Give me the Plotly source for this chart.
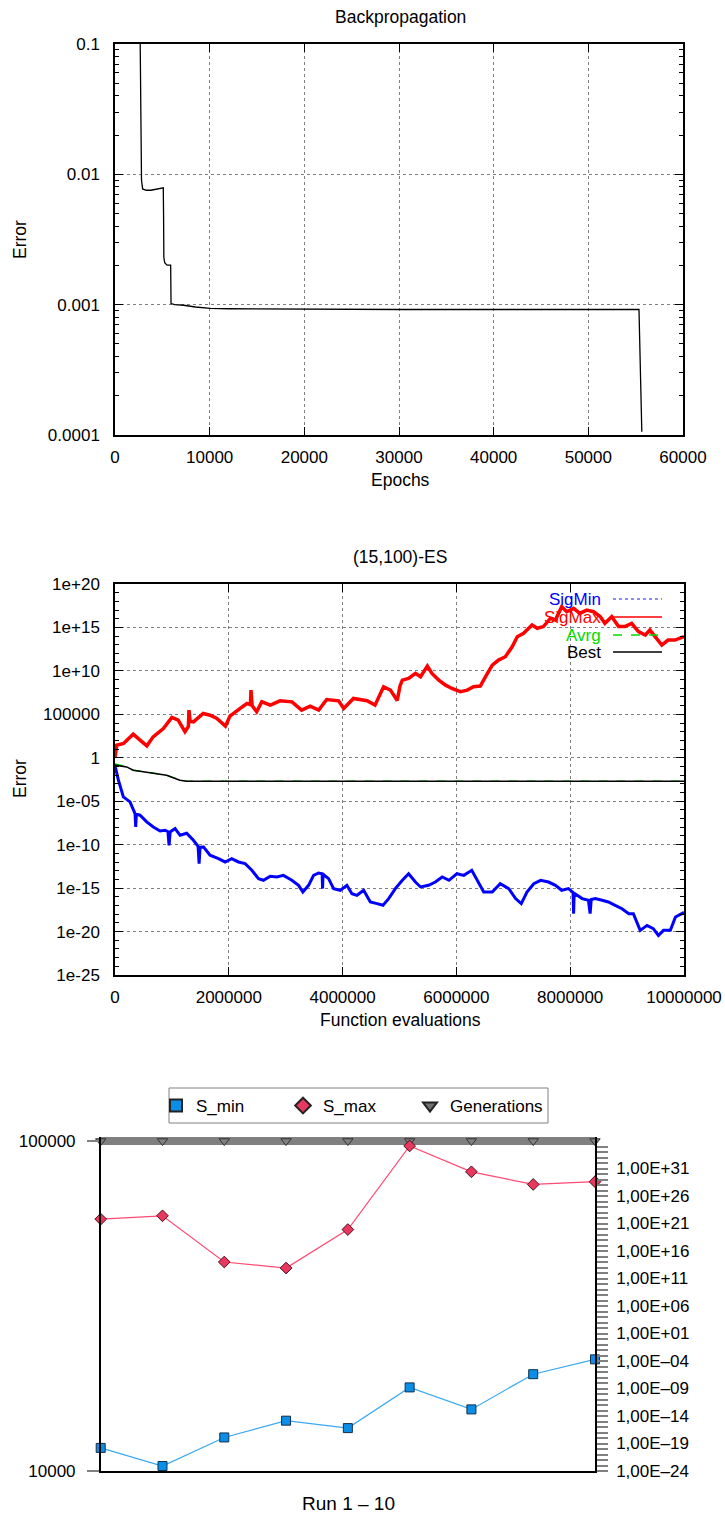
import numpy as np
import plotly.graph_objects as go

# ---------------- Backpropagation: training error per epoch ----------------
bp_epochs = [2600, 2650, 2720, 2800, 2920, 3300, 3800, 4300, 4800, 5100,
             5130, 5160, 5250, 5500, 5880, 5905, 5920, 6300, 7250, 8500,
             10070, 12000, 19600, 30000, 40000, 50000, 55350, 55650]
bp_error = [0.3, 0.1, 0.02, 0.009, 0.00773, 0.00755, 0.00755, 0.0077, 0.0078, 0.00787,
            0.005, 0.0023, 0.0021, 0.00201, 0.00201, 0.0015, 0.00102, 0.00100, 0.00099, 0.00096,
            0.000938, 0.00093, 0.000923, 0.000918, 0.000918, 0.000918, 0.000918, 0.000106]

# ---------------- (15,100)-ES: step sizes and fitness (log10 values) ----------------
sigmax_evals_m = [0.0, 0.03, 0.15, 0.32, 0.44, 0.56, 0.67, 0.85, 1.0, 1.11,
                  1.23, 1.29, 1.30, 1.32, 1.38, 1.55, 1.67, 1.79, 1.94, 2.02,
                  2.2, 2.32, 2.38, 2.39, 2.41, 2.49, 2.58, 2.73, 2.9, 3.11,
                  3.28, 3.43, 3.58, 3.72, 3.93, 4.02, 4.19, 4.43, 4.57, 4.72,
                  4.84, 4.92, 4.96, 5.01, 5.05, 5.16, 5.28, 5.37, 5.49, 5.57,
                  5.69, 5.81, 5.92, 6.07, 6.19, 6.3, 6.42, 6.51, 6.63, 6.74,
                  6.86, 6.98, 7.07, 7.18, 7.33, 7.42, 7.53, 7.65, 7.74, 7.85,
                  7.94, 8.06, 8.17, 8.29, 8.41, 8.53, 8.61, 8.73, 8.85, 8.96,
                  9.08, 9.2, 9.32, 9.4, 9.52, 9.61, 9.72, 9.84, 10.0]
sigmax_log10 = [0.0, 1.45, 1.64, 2.72, 2.03, 1.37, 2.41, 3.37, 4.64, 4.33,
                3.0, 3.6, 5.48, 4.2, 4.14, 5.1, 4.9, 4.52, 3.64, 4.79,
                5.68, 6.25, 6.1, 7.79, 6.0, 5.29, 6.44, 6.06, 6.56, 6.44,
                5.48, 5.94, 5.48, 6.71, 6.56, 5.68, 6.83, 6.56, 6.06, 8.17,
                7.79, 6.9, 6.6, 8.3, 8.94, 9.13, 9.71, 9.32, 10.55, 9.71,
                8.94, 8.36, 7.98, 7.6, 7.79, 8.17, 8.25, 9.32, 10.67, 11.24,
                11.63, 12.78, 13.93, 14.32, 15.28, 14.9, 15.1, 16.04, 15.85, 17.39,
                16.81, 17.2, 16.62, 17.0, 16.81, 16.24, 15.47, 16.24, 15.1, 15.1,
                15.47, 14.51, 14.13, 14.7, 13.74, 12.97, 13.55, 13.55, 13.93]

sigmin_evals_m = [0.0, 0.06, 0.147, 0.264, 0.352, 0.364, 0.376, 0.44, 0.557, 0.674,
                  0.792, 0.88, 0.93, 0.95, 0.97, 1.056, 1.144, 1.26, 1.378, 1.46,
                  1.478, 1.496, 1.554, 1.67, 1.818, 1.935, 2.05, 2.17, 2.287, 2.405,
                  2.522, 2.61, 2.727, 2.845, 2.96, 3.108, 3.226, 3.302, 3.402, 3.49,
                  3.578, 3.64, 3.648, 3.656, 3.754, 3.842, 3.959, 4.076, 4.164, 4.252,
                  4.37, 4.487, 4.604, 4.71, 4.81, 4.927, 5.05, 5.16, 5.28, 5.37,
                  5.51, 5.63, 5.75, 5.87, 6.01, 6.13, 6.27, 6.36, 6.48, 6.63,
                  6.77, 6.92, 7.04, 7.14, 7.24, 7.36, 7.48, 7.62, 7.74, 7.85,
                  7.97, 8.05, 8.06, 8.07, 8.21, 8.32, 8.35, 8.37, 8.44, 8.56,
                  8.67, 8.79, 8.91, 9.03, 9.11, 9.23, 9.35, 9.46, 9.55, 9.64,
                  9.76, 9.85, 9.97, 10.0]
sigmin_log10 = [-0.9, -2.58, -4.5, -5.08, -6.42, -7.96, -6.5, -6.61, -7.38, -7.96,
                -8.42, -8.34, -8.5, -10.07, -8.53, -8.15, -8.92, -8.68, -9.5, -10.2,
                -12.18, -10.3, -10.26, -11.22, -11.6, -11.99, -11.6, -11.99, -12.18, -12.95,
                -13.91, -14.1, -13.64, -13.72, -13.53, -14.1, -14.68, -15.45, -14.68, -13.53,
                -13.26, -13.34, -15.06, -13.4, -13.91, -15.06, -15.25, -14.68, -15.64, -15.83,
                -15.25, -16.6, -16.79, -16.98, -16.21, -15.06, -14.1, -13.34, -14.3, -14.87,
                -14.68, -14.3, -13.72, -14.1, -13.34, -13.53, -12.95, -14.1, -15.45, -15.45,
                -14.49, -15.06, -16.21, -16.79, -15.45, -14.49, -14.1, -14.3, -14.68, -15.25,
                -15.06, -15.5, -17.94, -15.6, -16.21, -16.4, -17.94, -16.3, -16.21, -16.4,
                -16.6, -16.98, -17.37, -17.94, -17.94, -19.86, -19.29, -19.67, -20.44, -19.86,
                -19.86, -18.33, -17.94, -17.8]

best_evals_m = [0.0, 0.1, 0.205, 0.32, 0.61, 0.907, 1.14, 1.26, 1.5, 10.0]
best_log10 = [-0.85, -0.92, -1.05, -1.43, -1.69, -2.0, -2.58, -2.7, -2.7, -2.7]
avrg_evals_m = [0.0, 0.1, 0.205, 0.32, 0.61, 0.907, 1.14, 1.26, 1.5, 10.0]
avrg_log10 = [-0.7, -0.9, -1.04, -1.42, -1.68, -1.99, -2.57, -2.7, -2.7, -2.7]

# ---------------- Runs 1-10 summary ----------------
runs = [1, 2, 3, 4, 5, 6, 7, 8, 9]
s_min_exp = [-19.8, -23.1, -17.9, -14.85, -16.2, -8.8, -12.8, -6.4, -3.7]
s_max_exp = [21.8, 22.4, 14.0, 12.9, 19.9, 35.1, 30.4, 28.1, 28.6]
generations = [100000, 100000, 100000, 100000, 100000, 100000, 100000, 100000, 100000]

right_tick_exps = list(range(-24, 36))
right_label_exps = list(range(-24, 32, 5))

W, H = 725, 1515
FONT = "Liberation Sans, Arial, sans-serif"


def fx(p):
    return p / W


def fy(p):
    return 1 - p / H


def exp_label(e):
    sign = "+" if e >= 0 else "\u2013"
    return "1,00E%s%02d" % (sign, abs(e))


fig = go.Figure()

# --- top panel
fig.add_trace(go.Scatter(x=bp_epochs, y=bp_error, mode="lines",
                         line=dict(color="black", width=1.3),
                         xaxis="x", yaxis="y", showlegend=False))

# --- middle panel
mid = dict(xaxis="x2", yaxis="y2", showlegend=False, mode="lines")
fig.add_trace(go.Scatter(x=np.array(sigmax_evals_m) * 1e6, y=10.0 ** np.array(sigmax_log10),
                         line=dict(color="#ff0000", width=3.5), **mid))
fig.add_trace(go.Scatter(x=np.array(sigmin_evals_m) * 1e6, y=10.0 ** np.array(sigmin_log10),
                         line=dict(color="#0000ff", width=3), **mid))
fig.add_trace(go.Scatter(x=np.array(avrg_evals_m) * 1e6, y=10.0 ** np.array(avrg_log10),
                         line=dict(color="#00dd00", width=1.5, dash="dash"), **mid))
fig.add_trace(go.Scatter(x=np.array(best_evals_m) * 1e6, y=10.0 ** np.array(best_log10),
                         line=dict(color="black", width=1.6), **mid))

# --- bottom panel
fig.add_trace(go.Scatter(x=runs, y=generations, mode="lines+markers",
                         line=dict(color="#808080", width=8),
                         marker=dict(symbol="triangle-down", size=9, color="#808080",
                                     line=dict(color="#333333", width=1)),
                         cliponaxis=False, xaxis="x3", yaxis="y3", showlegend=False))
fig.add_trace(go.Scatter(x=runs, y=10.0 ** np.array(s_max_exp), mode="lines+markers",
                         line=dict(color="#ff4a73", width=1.2),
                         marker=dict(symbol="diamond", size=9, color="#e8385e",
                                     line=dict(color="#4a1020", width=1)),
                         cliponaxis=False, xaxis="x3", yaxis="y4", showlegend=False))
fig.add_trace(go.Scatter(x=runs, y=10.0 ** np.array(s_min_exp), mode="lines+markers",
                         line=dict(color="#38a8f0", width=1.2),
                         marker=dict(symbol="square", size=9, color="#0a8ee8",
                                     line=dict(color="#10304a", width=1)),
                         cliponaxis=False, xaxis="x3", yaxis="y4", showlegend=False))

# legend entries for the bottom panel
for name, sym, col, lg in [("S_min", "square", "#0a8ee8", "legend"),
                           ("S_max", "diamond", "#e8385e", "legend"),
                           ("Generations", "triangle-down", "#707070", "legend2")]:
    fig.add_trace(go.Scatter(x=[None], y=[None], mode="markers", name=name,
                             marker=dict(symbol=sym, size=9, color=col,
                                         line=dict(color="#222222", width=1)),
                             xaxis="x3", yaxis="y4", showlegend=True, legend=lg))

gp_axis = dict(showline=True, linecolor="black", linewidth=1.5, mirror="allticks",
               ticks="inside", ticklen=8, tickcolor="black", tickwidth=1,
               showgrid=True, gridcolor="#808080", griddash="dot", gridwidth=1,
               zeroline=False, automargin=False,
               tickfont=dict(family=FONT, size=17, color="black"))

top_minor = [m * 10.0 ** k for k in range(-4, -1) for m in range(2, 10)]
mid_minor = [10.0 ** k for k in range(-25, 21)]

legend_common = dict(orientation="h", y=fy(1088), xanchor="left", yanchor="top",
                     borderwidth=0, bgcolor="rgba(0,0,0,0)",
                     font=dict(family=FONT, size=17, color="black"),
                     itemsizing="constant", itemwidth=30)

fig.update_layout(
    template="none",
    width=W, height=H, margin=dict(l=0, r=0, t=0, b=0, pad=0), autosize=False,
    paper_bgcolor="white", plot_bgcolor="white",
    font=dict(family=FONT, size=17, color="black"),
    showlegend=True,
    xaxis=dict(gp_axis, domain=[fx(115), fx(683)], anchor="y", range=[0, 60000],
               tickvals=[0, 10000, 20000, 30000, 40000, 50000, 60000],
               ticktext=["0", "10000", "20000", "30000", "40000", "50000", "60000"],
               ticklabelstandoff=6),
    yaxis=dict(gp_axis, domain=[fy(435), fy(44)], anchor="x", type="log", range=[-4, -1],
               tickvals=[1e-4, 1e-3, 1e-2, 1e-1], ticktext=["0.0001", "0.001", "0.01", "0.1"],
               minor=dict(tickvals=top_minor, ticks="inside", ticklen=4, tickcolor="black",
                          showgrid=False),
               ticklabelstandoff=10),
    xaxis2=dict(gp_axis, domain=[fx(115), fx(684)], anchor="y2", range=[0, 1e7],
                tickvals=[0, 2e6, 4e6, 6e6, 8e6, 1e7],
                ticktext=["0", "2000000", "4000000", "6000000", "8000000", "10000000"],
                ticklabelstandoff=6),
    yaxis2=dict(gp_axis, domain=[fy(975), fy(584)], anchor="x2", type="log", range=[-25, 20],
                tickvals=[10.0 ** k for k in range(-25, 21, 5)],
                ticktext=["1e-25", "1e-20", "1e-15", "1e-10", "1e-05", "1", "100000",
                          "1e+10", "1e+15", "1e+20"],
                minor=dict(tickvals=mid_minor, ticks="inside", ticklen=4, tickcolor="black",
                           showgrid=False),
                ticklabelstandoff=10),
    xaxis3=dict(domain=[fx(100.7), fx(595)], anchor="y3", range=[1, 9],
                showline=True, linecolor="black", linewidth=2, mirror=False,
                showticklabels=False, ticks="", showgrid=False, zeroline=False,
                automargin=False),
    yaxis3=dict(domain=[fy(1471), fy(1137)], anchor="x3", type="log",
                range=[4, 5 + 4 / 330], showline=True, linecolor="black", linewidth=1.5,
                tickvals=[1e4, 1e5], ticktext=["10000", "100000"],
                ticks="outside", ticklen=12, tickcolor="#808080", tickwidth=2,
                showgrid=False, zeroline=False, ticklabelstandoff=8, automargin=False,
                tickfont=dict(family=FONT, size=17, color="black")),
    yaxis4=dict(overlaying="y3", anchor="x3", side="right", type="log",
                range=[-24, 36 + 4 / 5.5], showline=True, linecolor="black", linewidth=1.5,
                tickvals=[10.0 ** e for e in right_tick_exps],
                ticktext=[exp_label(e) if e in right_label_exps else "" for e in right_tick_exps],
                ticks="outside", ticklen=11, tickcolor="#808080", tickwidth=2,
                showgrid=False, zeroline=False, ticklabelstandoff=5, automargin=False,
                tickfont=dict(family=FONT, size=17, color="black")),
    legend=dict(legend_common, x=fx(156), entrywidth=82, entrywidthmode="pixels"),
    legend2=dict(legend_common, x=fx(410)),
)

# frame of the bottom legend
fig.add_shape(type="rect", xref="paper", yref="paper",
              x0=fx(169), x1=fx(548), y0=fy(1123), y1=fy(1088),
              line=dict(color="#808080", width=1), fillcolor="white", layer="below")

# titles and axis labels
texts = [
    ("Backpropagation", 400, 17, 0, 17.5),
    ("Epochs", 400, 480, 0, 17.5),
    ("Error", 20, 240, -90, 17.5),
    ("(15,100)-ES", 400, 557, 0, 17.5),
    ("Function evaluations", 400, 1020, 0, 17.5),
    ("Error", 20, 779, -90, 17.5),
    ("Run 1 \u2013 10", 348, 1503, 0, 19),
]
for t, x, y, ang, sz in texts:
    fig.add_annotation(text=t, x=fx(x), y=fy(y), xref="paper", yref="paper",
                       xanchor="center", yanchor="middle", showarrow=False,
                       textangle=ang, font=dict(family=FONT, size=sz, color="black"))

# key of the ES panel: labels to the left of the line samples
key = [("SigMin", "#0000ff", "dot", 599),
       ("SigMax", "#ff0000", "solid", 617),
       ("Avrg", "#00dd00", "dash", 635),
       ("Best", "black", "solid", 652)]
for label, col, dash, y in key:
    fig.add_annotation(text=label, x=fx(603), y=fy(y), xref="paper", yref="paper",
                       xanchor="right", yanchor="middle", showarrow=False,
                       font=dict(family=FONT, size=17, color=col))
    fig.add_shape(type="line", xref="paper", yref="paper",
                  x0=fx(613), x1=fx(662), y0=fy(y), y1=fy(y),
                  line=dict(color=col if col != "#0000ff" else "#6666ff", width=1.3, dash=dash))

fig.write_html("out.html")
